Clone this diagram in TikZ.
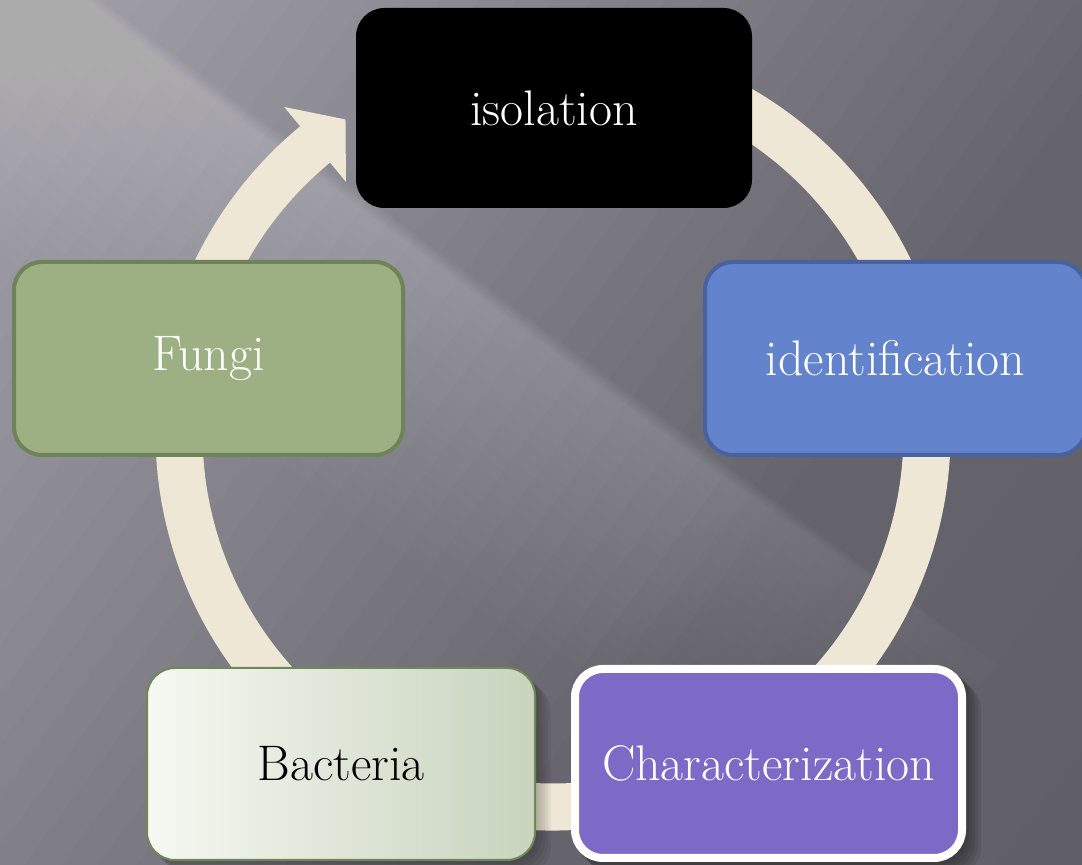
\documentclass[tikz,border=0pt]{standalone}
\usetikzlibrary{calc}
\definecolor{ringc}{RGB}{238,231,213}
\definecolor{idfill}{RGB}{100,131,205}
\definecolor{idborder}{RGB}{72,98,160}
\definecolor{chfill}{RGB}{125,106,198}
\definecolor{bacL}{RGB}{246,248,242}
\definecolor{bacR}{RGB}{200,212,190}
\definecolor{bacB}{RGB}{112,135,88}
\definecolor{fufill}{RGB}{157,176,131}
\definecolor{fuborder}{RGB}{110,132,88}
\tikzset{
  box/.style={rounded corners=28pt, inner sep=0pt, align=center,
    font=\fontsize{50}{60}\selectfont},
  ring/.style={fill=ringc, draw=none},
}
\begin{document}
\begin{tikzpicture}[x=1pt,y=1pt]
\useasboundingbox (0,0) rectangle (1082,865);
\clip (0,0) rectangle (1082,865);
% background: gradient along the diagonal edge
\begin{scope}[shift={(0,924)}, rotate=-36.6]
  \foreach \s in {-300,-270,...,1700}{
    \pgfmathsetmacro{\ga}{165-(\s/600)*40}
    \pgfmathsetmacro{\gb}{125-((\s-600)/350)*23}
    \pgfmathsetmacro{\gc}{max(95,102-((\s-950)/650)*7)}
    \pgfmathsetmacro{\g}{\s<0 ? 165 : (\s<600 ? \ga : (\s<950 ? \gb : \gc))}
    \pgfmathtruncatemacro{\r}{\g}
    \pgfmathtruncatemacro{\gg}{\g-2}
    \pgfmathtruncatemacro{\b}{\g+6}
    \definecolor{bgtmp}{RGB}{\r,\gg,\b}
    \fill[bgtmp] (\s,-1400) rectangle (\s+31,1400);
  }
  % light band below the edge (soft top edge)
  \foreach \k in {1,...,20}{
    \pgfmathsetmacro{\w}{250*\k/20}
    \pgfmathsetmacro{\e}{1250-350*\k/20}
    \pgfmathsetmacro{\t}{14-14*\k/20}
    \fill[white, opacity=0.012] (-400,-\w) rectangle (\e,\t);
  }
\end{scope}
% ring arrow
\coordinate (C) at (553,432);
\fill[ring] ($(C)+(100:397.5pt)$) arc[start angle=100, end angle=-230.5, radius=397.5pt]
  -- ($(C)+(129.5:422.5pt)$) -- ($(C)+(123.5:376pt)$) -- ($(C)+(129.5:325.5pt)$)
  -- ($(C)+(129.5:350.5pt)$) arc[start angle=-230.5, end angle=100, radius=350.5pt] -- cycle;
% shadows
\foreach \s in {3,6,9,12,15}{
  \fill[black, opacity=0.08, rounded corners=30pt] (571+\s,3-\s) rectangle (966+\s,200-\s);
  \fill[black, opacity=0.05, rounded corners=30pt] (146+\s,4-\s) rectangle (536+\s,198-\s);
}
% boxes
\node[box, fill=black, draw=black, line width=1pt, minimum width=395pt, minimum height=199pt, text=white] (iso) at (554,757) {isolation};
\node[box, fill=idfill, draw=idborder, line width=4pt, minimum width=381pt, minimum height=193pt, text=white] (ide) at (895.5,506.5) {identification};
\node[box, fill=chfill, draw=white, line width=8pt, minimum width=387pt, minimum height=189pt, text=white] (cha) at (768.5,101.5) {Characterization};
\node[box, left color=bacL, right color=bacR, draw=bacB, line width=2pt, minimum width=388pt, minimum height=192pt, text=black] (bac) at (341,101) {Bacteria};
\node[box, fill=fufill, draw=fuborder, line width=4pt, minimum width=389pt, minimum height=193pt, text=white] (fun) at (208.5,506.5) {Fungi};
\end{tikzpicture}
\end{document}
